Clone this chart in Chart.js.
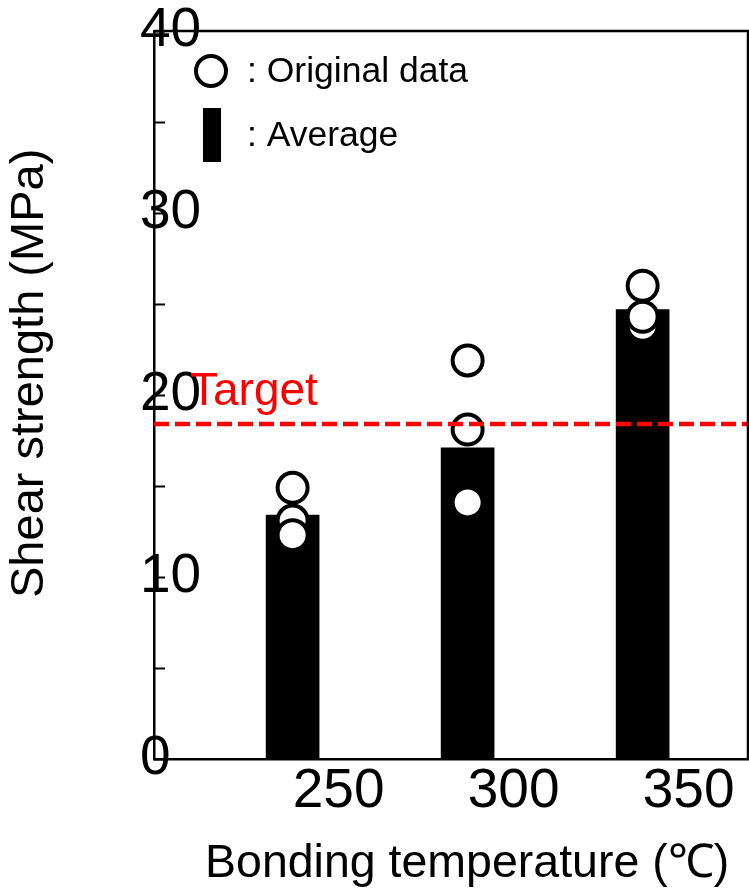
<!DOCTYPE html>
<html><head><meta charset="utf-8">
<script src="https://cdn.jsdelivr.net/npm/chart.js@4.4.1/dist/chart.umd.min.js"></script>
<style>html,body{margin:0;padding:0;background:#fff;overflow:hidden}#wrap{width:749px;height:890px;position:relative}</style>
</head><body><div id="wrap"><canvas id="c" width="749" height="890"></canvas></div>
<script>
// ---- data ----
const temperatures = [250, 300, 350];
const averageStrength = [13.4, 17.1, 24.7];
const sampleTemperatures = [250, 250, 250, 300, 300, 300, 350, 350, 350];
const sampleStrength = [14.9, 13.1, 12.3, 21.9, 18.1, 14.1, 23.8, 24.3, 26.0];
const targetStrength = 18.4;
const xTickValues = [250, 300, 350];
const yTickValues = [0, 10, 20, 30, 40];
const yMinorTickValues = [0, 5, 10, 15, 20, 25, 30, 35, 40];
const xRange = [210.4, 380.1];
const yRange = [0, 40];
const xTitle = 'Bonding temperature (\u2103)';
const yTitle = 'Shear strength (MPa)';
const legendLabels = [': Original data', ': Average'];
const targetLabel = 'Target';

const FONT = '"Liberation Sans", Arial, Helvetica, sans-serif';

const decor = {
  id: 'decor',
  afterDraw(chart) {
    const ctx = chart.ctx;
    const {left, right, top, bottom} = chart.chartArea;
    const ys = chart.scales.y;
    ctx.save();
    // frame (top & right)
    ctx.strokeStyle = '#000';
    ctx.lineWidth = 2.5;
    ctx.beginPath();
    ctx.moveTo(left, top);
    ctx.lineTo(right, top);
    ctx.lineTo(right, bottom);
    ctx.stroke();
    // inward tick marks
    ctx.lineWidth = 2;
    yMinorTickValues.forEach(v => {
      const py = Math.round(ys.getPixelForValue(v)) + 0.5;
      ctx.beginPath();
      ctx.moveTo(left, py);
      ctx.lineTo(left + 11, py);
      ctx.stroke();
    });
    // legend
    ctx.lineWidth = 4;
    ctx.fillStyle = '#fff';
    ctx.beginPath();
    ctx.arc(211, 71, 15, 0, Math.PI * 2);
    ctx.fill();
    ctx.stroke();
    ctx.fillStyle = '#000';
    ctx.fillRect(203, 108, 18, 54);
    ctx.font = '35.5px ' + FONT;
    ctx.textAlign = 'left';
    ctx.textBaseline = 'middle';
    ctx.fillText(legendLabels[0], 247, 72);
    ctx.fillText(legendLabels[1], 247, 136);
    // target label
    ctx.fillStyle = '#ff0000';
    ctx.font = '46px ' + FONT;
    ctx.textBaseline = 'alphabetic';
    ctx.fillText(targetLabel, 190, ys.getPixelForValue(targetStrength) - 19);
    // axis titles
    ctx.fillStyle = '#000';
    ctx.font = '46.5px ' + FONT;
    ctx.fillText(xTitle, 205, 877);
    ctx.font = '47px ' + FONT;
    ctx.translate(43, 598);
    ctx.rotate(-Math.PI / 2);
    ctx.fillText(yTitle, 0, 0);
    ctx.restore();
  }
};

new Chart(document.getElementById('c'), {
  type: 'bar',
  data: {
    datasets: [
      {
        type: 'line', label: 'Target',
        data: [{x: xRange[0], y: targetStrength}, {x: xRange[1], y: targetStrength}],
        borderColor: '#ff0000', borderWidth: 4.5, borderDash: [15, 6],
        pointRadius: 0, fill: false, order: 0
      },
      {
        type: 'scatter', label: 'Original data',
        data: sampleTemperatures.map((t, i) => ({x: t, y: sampleStrength[i]})),
        pointRadius: 15, pointBorderWidth: 4,
        pointBackgroundColor: '#ffffff', pointBorderColor: '#000000',
        order: 1, clip: false
      },
      {
        type: 'bar', label: 'Average',
        data: temperatures.map((t, i) => ({x: t, y: averageStrength[i]})),
        backgroundColor: '#000000', borderWidth: 0, barThickness: 53,
        order: 2
      }
    ]
  },
  options: {
    responsive: false,
    animation: false,
    events: [],
    layout: {autoPadding: false, padding: {top: 31, right: 1, left: 0, bottom: 0}},
    plugins: {legend: {display: false}, tooltip: {enabled: false}, title: {display: false}},
    scales: {
      x: {
        type: 'linear', min: xRange[0], max: xRange[1], offset: false,
        grid: {display: false, drawTicks: false, offset: false},
        border: {display: true, color: '#000', width: 2.5},
        afterBuildTicks: s => { s.ticks = xTickValues.map(v => ({value: v})); },
        afterFit: s => { s.height = 131; s.paddingLeft = 0; s.paddingRight = 0; s.paddingTop = 0; s.paddingBottom = 0; },
        ticks: {
          font: {family: FONT, size: 55}, color: '#000',
          autoSkip: false, maxRotation: 0, labelOffset: 46, padding: 0,
          callback: v => String(v)
        }
      },
      y: {
        type: 'linear', min: yRange[0], max: yRange[1],
        grid: {display: false, drawTicks: false},
        border: {display: true, color: '#000', width: 2.5},
        afterBuildTicks: s => { s.ticks = yTickValues.map(v => ({value: v})); },
        afterFit: s => { s.width = 154; s.paddingLeft = 0; s.paddingRight = 0; s.paddingTop = 0; s.paddingBottom = 0; },
        ticks: {
          font: {family: FONT, size: 55}, color: '#000',
          mirror: true, padding: -14, crossAlign: 'near',
          callback: v => String(v)
        }
      }
    }
  },
  plugins: [decor]
});
</script></body></html>
